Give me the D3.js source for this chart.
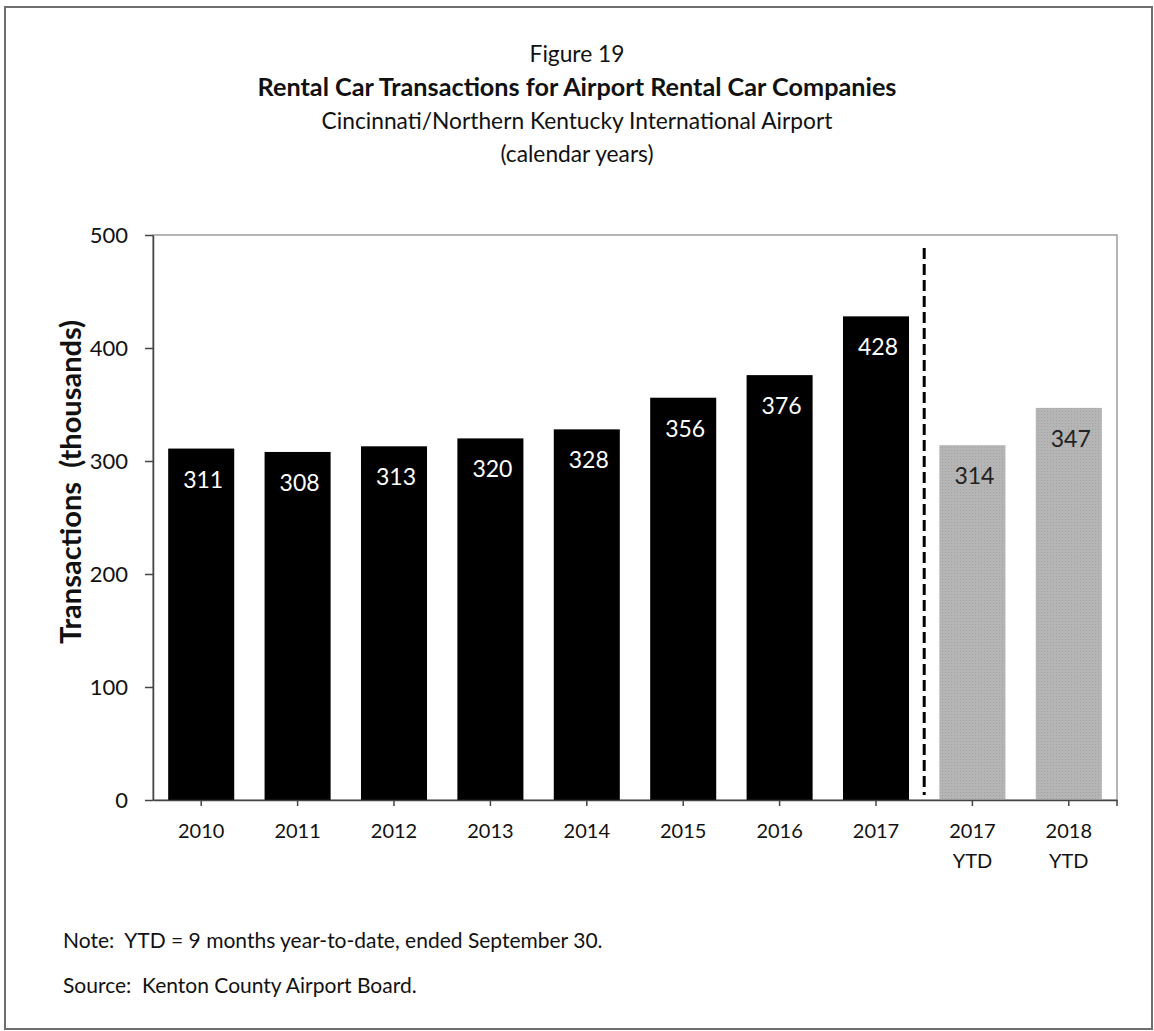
<!DOCTYPE html>
<html>
<head>
<meta charset="utf-8">
<script src="https://cdn.jsdelivr.net/npm/d3@7"></script>
<style>
  html, body { margin: 0; padding: 0; background: #fff; }
  svg { display: block; font-family: Lato, "Open Sans", sans-serif; }
</style>
</head>
<body>
<svg id="chart" width="1154" height="1031"></svg>
<script>
// Rental car transactions (thousands), calendar years then year-to-date
const categories = ["2010", "2011", "2012", "2013", "2014", "2015", "2016", "2017", "2017\nYTD", "2018\nYTD"];
const values = [311, 308, 313, 320, 328, 356, 376, 428, 314, 347];
const isYtd = [false, false, false, false, false, false, false, false, true, true];
const yTicks = [0, 100, 200, 300, 400, 500];

const figureLabel = "Figure 19";
const titleText = "Rental Car Transactions for Airport Rental Car Companies";
const subtitleLines = ["Cincinnati/Northern Kentucky International Airport", "(calendar years)"];
const yTitleText = "Transactions\u00A0\u00A0(thousands)";
const notes = [
  "Note:\u00A0\u00A0YTD = 9 months year-to-date, ended September 30.",
  "Source:\u00A0\u00A0Kenton County Airport Board."
];

const svg = d3.select("#chart");
const W = 1154, H = 1031;
const plot = { left: 153, right: 1117, top: 235, bottom: 800 };
const cx = 577;

// size a text element so its rendered width equals the given width
function fitWidth(sel, target) {
  const base = parseFloat(sel.attr("font-size"));
  const w = sel.node().getComputedTextLength();
  if (w > 0) sel.attr("font-size", (base * target / w).toFixed(2));
  return parseFloat(sel.attr("font-size"));
}

// dotted halftone fill for the year-to-date bars
const defs = svg.append("defs");
const pat = defs.append("pattern")
  .attr("id", "ytdFill").attr("width", 3).attr("height", 3)
  .attr("patternUnits", "userSpaceOnUse");
pat.append("rect").attr("width", 3).attr("height", 3).attr("fill", "#b5b5b5");
pat.append("rect").attr("width", 1).attr("height", 1).attr("fill", "#a2a2a2");

// outer frame
svg.append("rect")
  .attr("x", 5).attr("y", 7).attr("width", W - 7).attr("height", H - 9)
  .attr("fill", "none").attr("stroke", "#6f6f6f").attr("stroke-width", 2);

// headings
const title = svg.append("text")
  .attr("x", cx).attr("y", 96)
  .attr("text-anchor", "middle")
  .attr("font-size", 22).attr("font-weight", "bold").attr("fill", "#111")
  .text(titleText);
fitWidth(title, 639);

const sub = svg.append("text")
  .attr("x", cx).attr("y", 129)
  .attr("text-anchor", "middle")
  .attr("font-size", 22).attr("fill", "#111")
  .text(subtitleLines[0]);
const subSize = fitWidth(sub, 511);

svg.append("text")
  .attr("x", cx).attr("y", 162)
  .attr("text-anchor", "middle")
  .attr("font-size", subSize).attr("fill", "#111")
  .text(subtitleLines[1]);

svg.append("text")
  .attr("x", cx).attr("y", 62)
  .attr("text-anchor", "middle")
  .attr("font-size", subSize).attr("fill", "#111")
  .text(figureLabel);

// scales
const x = d3.scaleBand()
  .domain(categories)
  .range([plot.left, plot.right])
  .paddingInner(0.315)
  .paddingOuter(0.1575);

const y = d3.scaleLinear()
  .domain([0, 500])
  .range([plot.bottom, plot.top]);

// plot area border
svg.append("rect")
  .attr("x", plot.left).attr("y", plot.top)
  .attr("width", plot.right - plot.left).attr("height", plot.bottom - plot.top)
  .attr("fill", "none").attr("stroke", "#858585").attr("stroke-width", 1.2);

// bars
const data = categories.map((c, i) => ({ cat: c, value: values[i], ytd: isYtd[i] }));

svg.append("g").selectAll("rect")
  .data(data)
  .join("rect")
  .attr("x", d => x(d.cat))
  .attr("y", d => y(d.value))
  .attr("width", x.bandwidth())
  .attr("height", d => y(0) - y(d.value))
  .attr("fill", d => d.ytd ? "url(#ytdFill)" : "#000");

// value labels just inside the bar tops
svg.append("g").selectAll("text")
  .data(data)
  .join("text")
  .attr("x", d => x(d.cat) + x.bandwidth() / 2 + 2)
  .attr("y", d => y(d.value) + 39)
  .attr("text-anchor", "middle")
  .attr("font-size", 23)
  .attr("fill", d => d.ytd ? "#222" : "#fff")
  .text(d => d.value);

// divider between full years and year-to-date
const divX = x(categories[8]) - x.step() * x.paddingInner() / 2;
svg.append("line")
  .attr("x1", divX).attr("x2", divX)
  .attr("y1", plot.top + 13).attr("y2", plot.bottom - 5)
  .attr("stroke", "#000").attr("stroke-width", 3)
  .attr("stroke-dasharray", "11,5");

// y axis
const yAxis = svg.append("g")
  .attr("transform", `translate(${plot.left},0)`)
  .call(d3.axisLeft(y).tickValues(yTicks).tickSize(8).tickSizeOuter(0).tickPadding(17));
yAxis.select(".domain").attr("stroke", "#444").attr("stroke-width", 1.5);
yAxis.selectAll(".tick line").attr("stroke", "#444").attr("stroke-width", 1.5);
yAxis.selectAll(".tick text")
  .attr("font-family", "Lato, sans-serif")
  .attr("font-size", 22).attr("fill", "#111");

// x axis with two-line category labels
const xAxis = svg.append("g")
  .attr("transform", `translate(0,${plot.bottom})`)
  .call(d3.axisBottom(x).tickSize(6).tickSizeOuter(0));
xAxis.select(".domain").attr("stroke", "#444").attr("stroke-width", 1.5);
xAxis.selectAll(".tick line").attr("stroke", "#444").attr("stroke-width", 1.5);
xAxis.selectAll(".tick text").remove();
xAxis.selectAll(".tick").each(function(d) {
  const t = d3.select(this).append("text")
    .attr("text-anchor", "middle")
    .attr("font-family", "Lato, sans-serif")
    .attr("font-size", 20).attr("fill", "#111");
  d.split("\n").forEach((line, i) => {
    t.append("tspan").attr("x", 0).attr("y", 38 + i * 30).text(line);
  });
});
// closing tick at the right end of the category axis
svg.append("line")
  .attr("x1", plot.right).attr("x2", plot.right)
  .attr("y1", plot.bottom).attr("y2", plot.bottom + 6)
  .attr("stroke", "#444").attr("stroke-width", 1.5);

// y axis title
svg.append("text")
  .attr("transform", "translate(81,482) rotate(-90)")
  .attr("text-anchor", "middle")
  .attr("font-size", 29).attr("font-weight", "bold")
  .attr("fill", "#111")
  .text(yTitleText);

// footnotes
notes.forEach((n, i) => {
  svg.append("text")
    .attr("x", 63).attr("y", 948 + i * 45)
    .attr("font-size", 21).attr("fill", "#111")
    .text(n);
});
</script>
</body>
</html>
